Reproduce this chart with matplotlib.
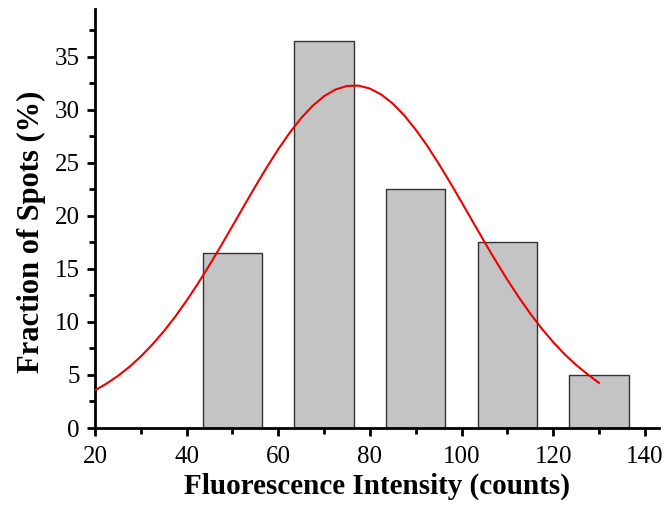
import matplotlib
matplotlib.use("Agg")
import matplotlib.pyplot as plt
from matplotlib.ticker import MultipleLocator

# histogram bins (counts) and fraction of spots (%)
bin_centers = [50, 70, 90, 110, 130]
fractions = [16.5, 36.5, 22.5, 17.5, 5.0]

# fitted curve, every 2.5 counts
fit_x = [20, 22.5, 25, 27.5, 30, 32.5, 35, 37.5, 40, 42.5, 45, 47.5, 50, 52.5,
         55, 57.5, 60, 62.5, 65, 67.5, 70, 72.5, 75, 77.5, 80, 82.5, 85, 87.5,
         90, 92.5, 95, 97.5, 100, 102.5, 105, 107.5, 110, 112.5, 115, 117.5,
         120, 122.5, 125, 127.5, 130]
fit_y = [3.56, 4.18, 4.91, 5.76, 6.74, 7.86, 9.11, 10.49, 12.01, 13.64, 15.37,
         17.18, 19.04, 20.92, 22.78, 24.58, 26.28, 27.84, 29.22, 30.37, 31.28,
         31.91, 32.24, 32.28, 32.00, 31.43, 30.58, 29.47, 28.13, 26.61, 24.93,
         23.15, 21.30, 19.42, 17.55, 15.73, 13.98, 12.33, 10.79, 9.38, 8.10,
         6.95, 5.95, 5.07, 4.25]

plt.rcParams['font.family'] = ['Liberation Serif', 'DejaVu Serif']

fig = plt.figure(figsize=(6.67, 5.11), dpi=100)
ax = fig.add_axes([0.1424, 0.1624, 0.8456, 0.82])

ax.bar(bin_centers, fractions, width=13, color='#c4c4c4', edgecolor='#333333',
       linewidth=1.0, zorder=2)
ax.plot(fit_x, fit_y, color='#ee0000', linewidth=1.5, zorder=3)

ax.set_xlim(20, 143.1)
ax.set_ylim(0, 39.5)
ax.xaxis.set_major_locator(MultipleLocator(20))
ax.xaxis.set_minor_locator(MultipleLocator(10))
ax.yaxis.set_major_locator(MultipleLocator(5))
ax.yaxis.set_minor_locator(MultipleLocator(2.5))

for s in ['top', 'right']:
    ax.spines[s].set_visible(False)
for s in ['left', 'bottom']:
    ax.spines[s].set_linewidth(2.0)

ax.tick_params(which='major', direction='out', length=6, width=2, labelsize=18)
ax.tick_params(axis='y', which='major', pad=5)
ax.tick_params(axis='x', which='major', pad=7)
ax.tick_params(which='minor', direction='out', length=4, width=2)

ax.set_xlabel('Fluorescence Intensity (counts)', fontsize=21, fontweight='bold',
              labelpad=3)
ax.set_ylabel('Fraction of Spots (%)', fontsize=22, fontweight='bold')
ax.yaxis.set_label_coords(-0.086, 0.469)

fig.savefig('out.png', dpi=100)
